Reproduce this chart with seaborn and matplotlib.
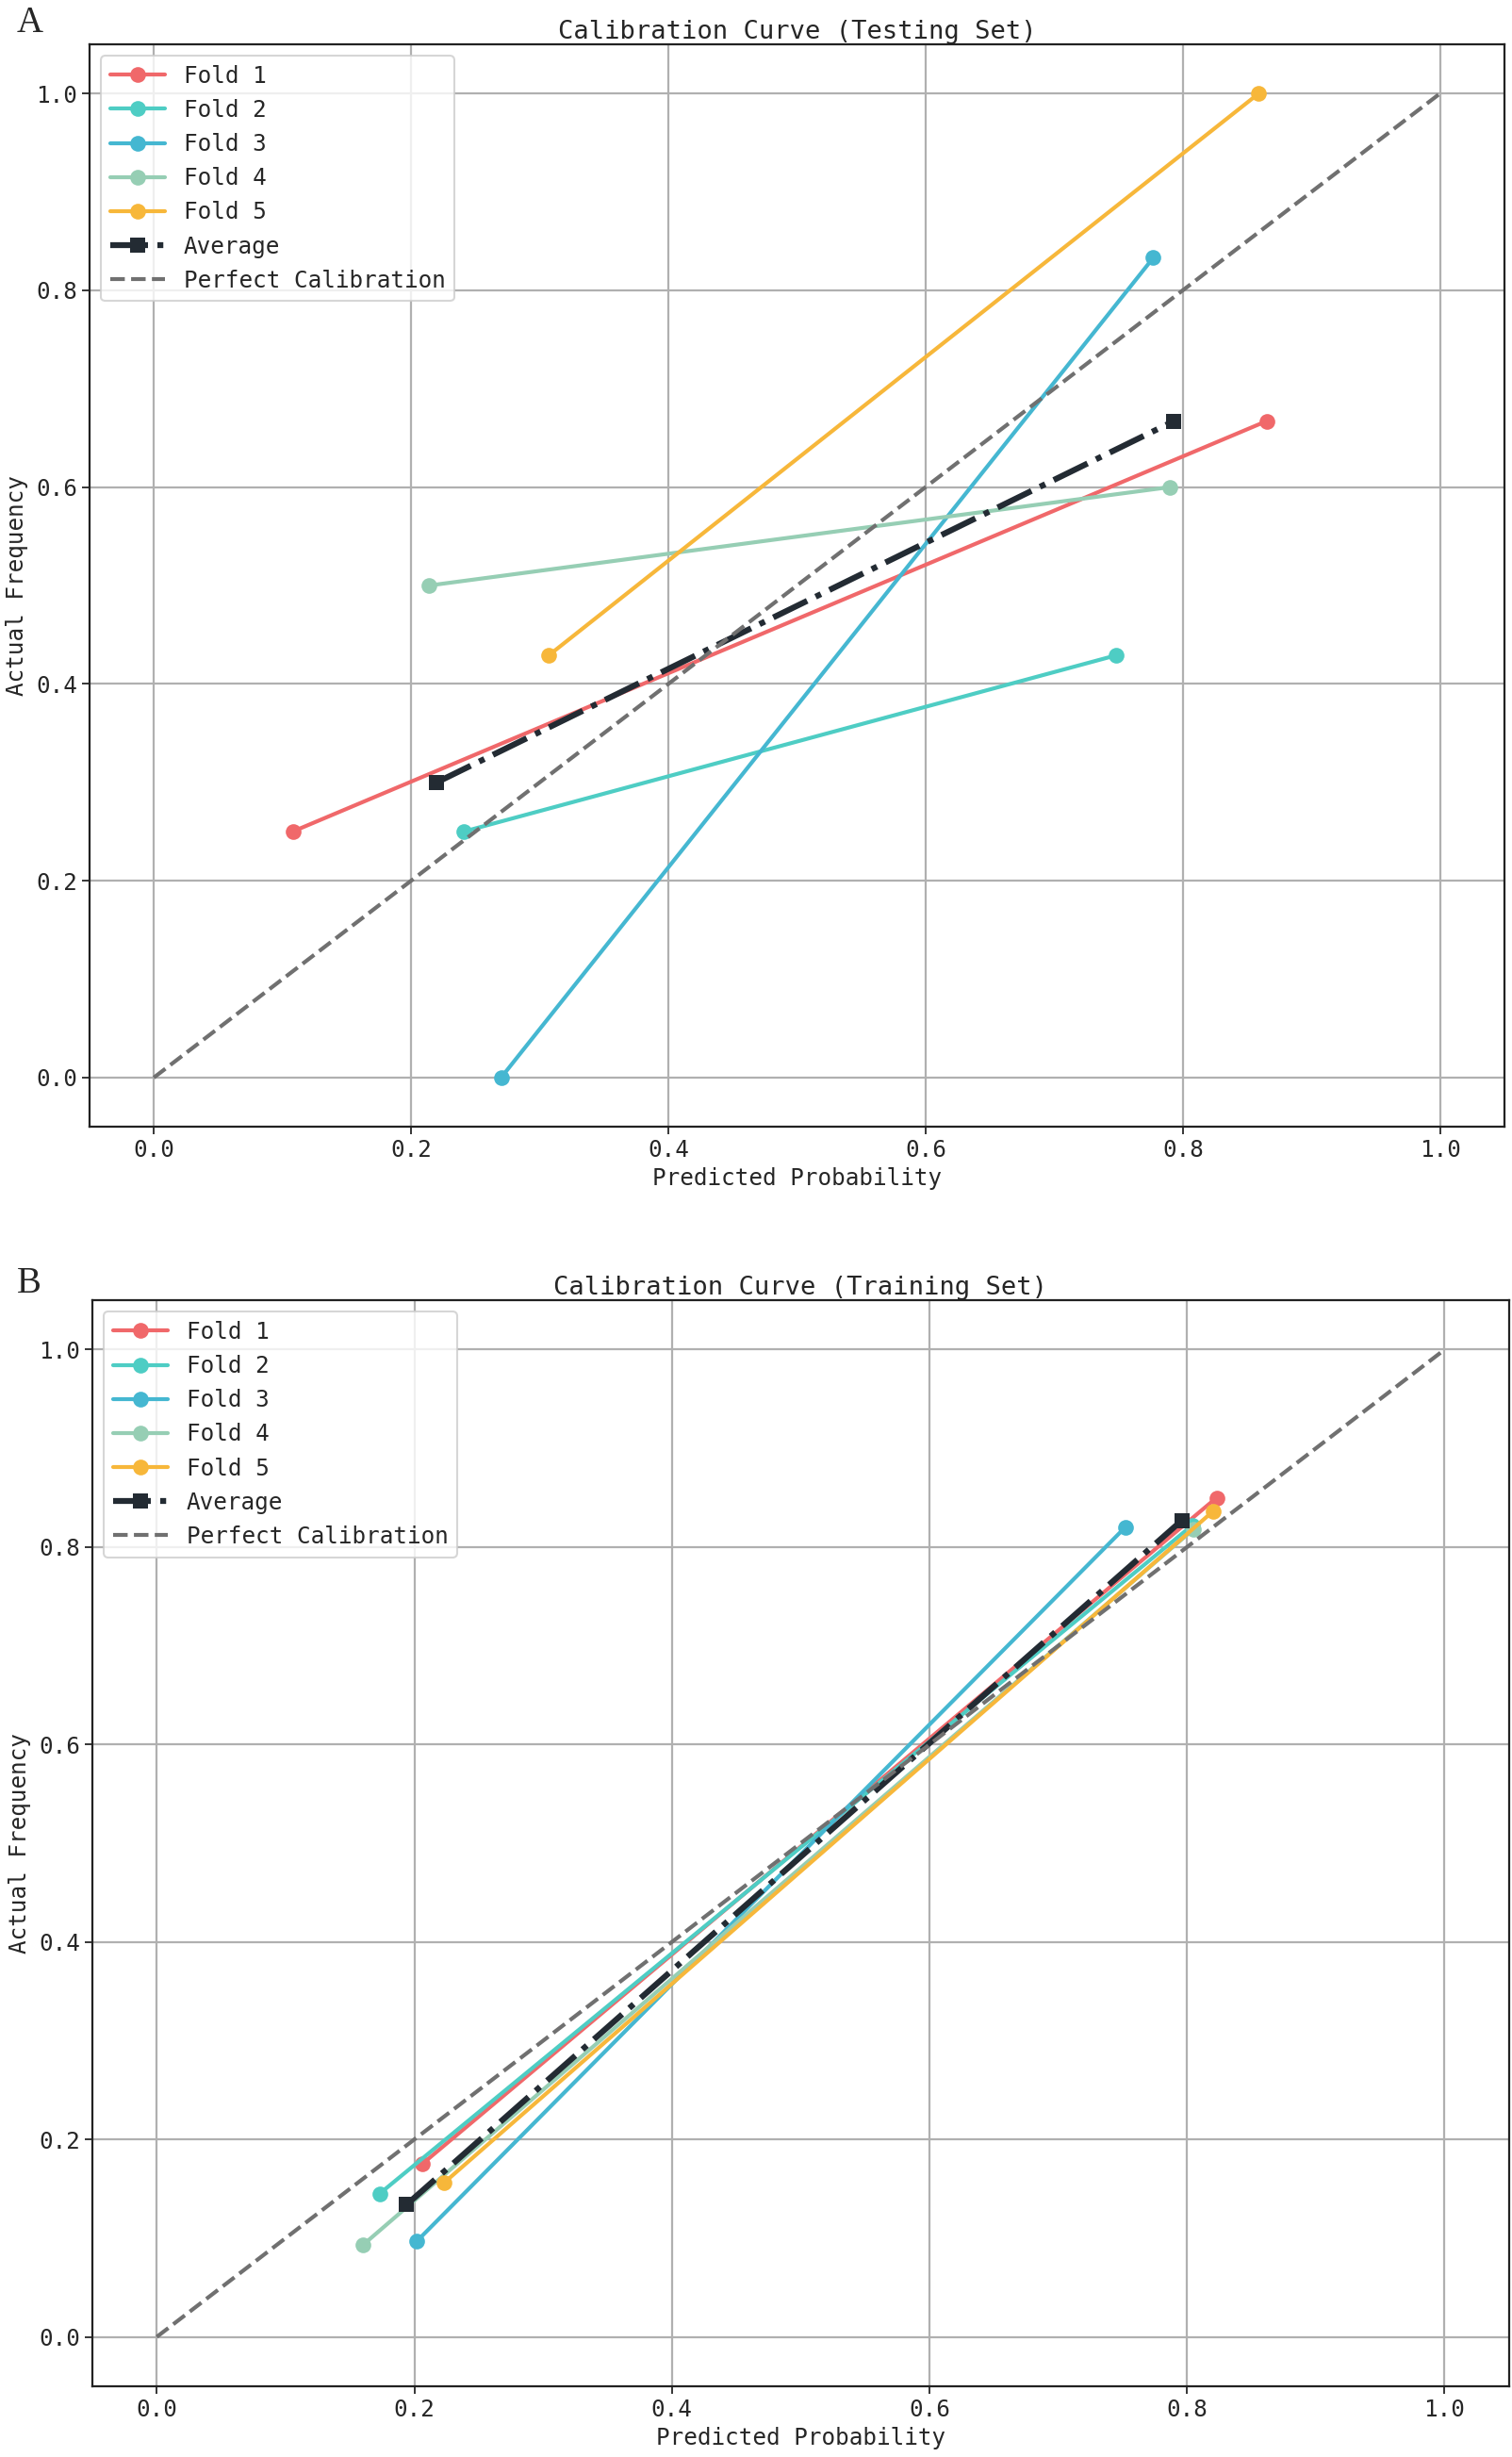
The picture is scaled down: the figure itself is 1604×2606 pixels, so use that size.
import matplotlib
matplotlib.use("Agg")
import matplotlib.pyplot as plt
import seaborn as sns
import pandas as pd

folds = ["Fold 1", "Fold 2", "Fold 3", "Fold 4", "Fold 5"]
colors = ["#F0686A", "#4ECDC4", "#45B7D1", "#96CEB4", "#F7B73A"]

# Testing set (A): predicted probability / actual frequency per fold (2 bins)
test_x = [[0.108, 0.865], [0.241, 0.748], [0.270, 0.777], [0.214, 0.790], [0.307, 0.859]]
test_y = [[0.250, 0.667], [0.250, 0.429], [0.000, 0.833], [0.500, 0.600], [0.429, 1.000]]
test_avg_x = [0.220, 0.793]
test_avg_y = [0.300, 0.667]

# Training set (B)
train_x = [[0.206, 0.823], [0.173, 0.804], [0.202, 0.752], [0.160, 0.805], [0.223, 0.820]]
train_y = [[0.175, 0.850], [0.145, 0.822], [0.097, 0.820], [0.093, 0.818], [0.156, 0.836]]
train_avg_x = [0.194, 0.796]
train_avg_y = [0.134, 0.827]

titles = ["Calibration Curve (Testing Set)", "Calibration Curve (Training Set)"]
panel_labels = ["A", "B"]
ticks = [0.0, 0.2, 0.4, 0.6, 0.8, 1.0]

sns.set_style("ticks")
plt.rcParams["font.family"] = ["DejaVu Sans Mono", "DejaVu Sans"]

fig = plt.figure(figsize=(16.04, 26.06), dpi=100)
axA = fig.add_axes([0.0592, 0.5414, 0.9358, 0.4406])
axB = fig.add_axes([0.0611, 0.0288, 0.9369, 0.4420])

datasets = [(axA, test_x, test_y, test_avg_x, test_avg_y),
            (axB, train_x, train_y, train_avg_x, train_avg_y)]

for i, (ax, xs, ys, ax_x, ax_y) in enumerate(datasets):
    ax.grid(True, color="#b0b0b0", linewidth=1.6)
    ax.set_axisbelow(True)
    for name, c, xv, yv in zip(folds, colors, xs, ys):
        df = pd.DataFrame({"x": xv, "y": yv})
        sns.lineplot(data=df, x="x", y="y", ax=ax, color=c, marker="o",
                     markersize=12, markeredgewidth=0, linewidth=3.0,
                     label=name, sort=False)
    dfa = pd.DataFrame({"x": ax_x, "y": ax_y})
    sns.lineplot(data=dfa, x="x", y="y", ax=ax, color="#232B33", marker="s",
                 markersize=12, markeredgewidth=0, linewidth=4.5,
                 linestyle="-.", label="Average", sort=False)
    dfp = pd.DataFrame({"x": [0.0, 1.0], "y": [0.0, 1.0]})
    sns.lineplot(data=dfp, x="x", y="y", ax=ax, color="#707070",
                 linewidth=3.0, linestyle="--", label="Perfect Calibration",
                 sort=False)
    ax.set_xlim(-0.05, 1.05)
    ax.set_ylim(-0.05, 1.05)
    ax.set_xticks(ticks)
    ax.set_yticks(ticks)
    ax.set_xticklabels([f"{t:.1f}" for t in ticks])
    ax.set_yticklabels([f"{t:.1f}" for t in ticks])
    ax.tick_params(labelsize=17.5, length=6, width=1.3)
    for s in ax.spines.values():
        s.set_color("#222222")
        s.set_linewidth(1.6)
    ax.set_xlabel("Predicted Probability", fontsize=17.5, labelpad=4)
    ax.set_ylabel("Actual Frequency", fontsize=17.5, labelpad=6)
    ax.set_title(titles[i], fontsize=19.5, pad=2)
    leg = ax.legend(loc="upper left", fontsize=17.5, frameon=True,
                    handlelength=2.4, borderpad=0.4, labelspacing=0.5,
                    fancybox=True)
    leg.get_frame().set_edgecolor("#cccccc")
    leg.get_frame().set_linewidth(1.5)

fig.text(0.011, 0.9905, "A", fontsize=28, family="Liberation Serif", va="center")
fig.text(0.011, 0.4775, "B", fontsize=28, family="Liberation Serif", va="center")

fig.savefig("out.png", dpi=100, facecolor="white")
